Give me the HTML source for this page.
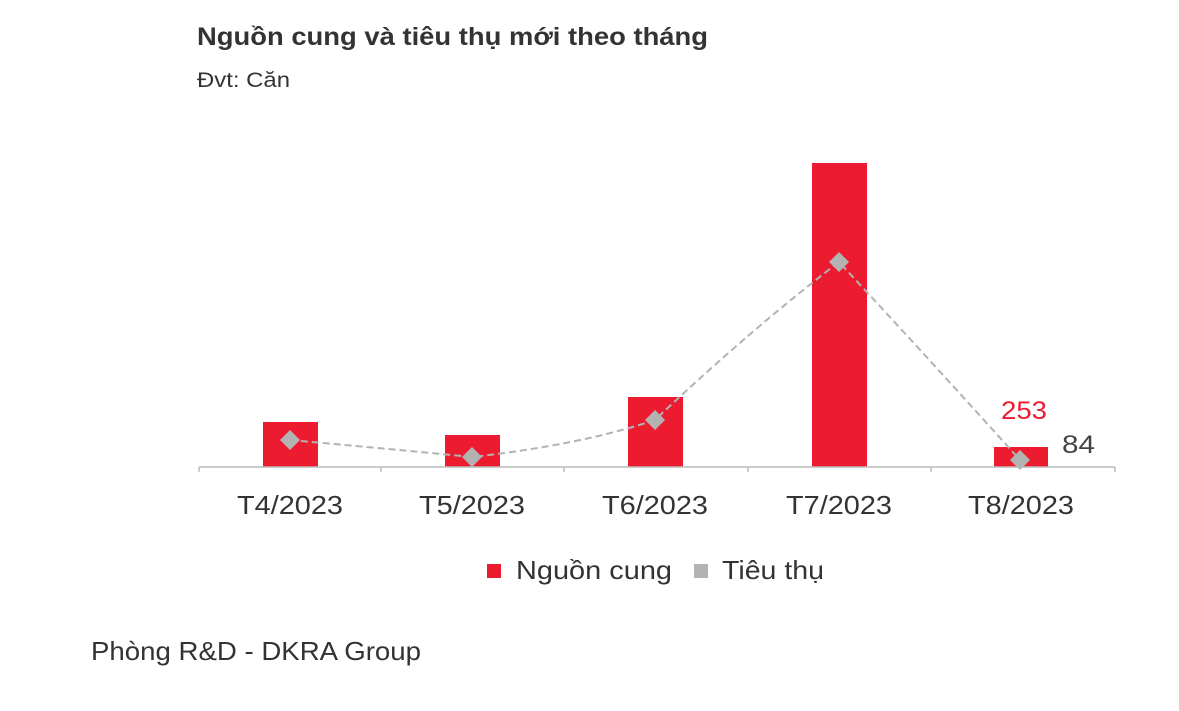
<!DOCTYPE html>
<html><head><meta charset="utf-8"><style>
body{margin:0;background:#fff;}
svg{display:block;font-family:"Liberation Sans",sans-serif;}
</style></head><body>
<svg width="1179" height="711" viewBox="0 0 1179 711">
<text x="197" y="45" font-size="25" font-weight="bold" fill="#333" textLength="511" lengthAdjust="spacingAndGlyphs">Nguồn cung và tiêu thụ mới theo tháng</text>
<text x="197" y="87" font-size="21" fill="#333" textLength="93" lengthAdjust="spacingAndGlyphs">Đvt: Căn</text>
<g fill="#ED1B2F">
<rect x="263" y="422" width="55" height="45"/>
<rect x="445" y="435" width="55" height="32"/>
<rect x="628" y="397" width="55" height="70"/>
<rect x="812" y="163" width="55" height="304"/>
<rect x="994" y="447" width="54" height="20"/>
</g>
<g stroke="#bbb" stroke-width="1.5" fill="none">
<line x1="199" y1="467" x2="1115" y2="467"/>
<line x1="199" y1="467" x2="199" y2="472"/>
<line x1="381" y1="467" x2="381" y2="472"/>
<line x1="564" y1="467" x2="564" y2="472"/>
<line x1="748" y1="467" x2="748" y2="472"/>
<line x1="931" y1="467" x2="931" y2="472"/>
<line x1="1115" y1="467" x2="1115" y2="472"/>
</g>
<path d="M290,440 Q380,448 472,457 Q580,445 655,420 Q750,330 839,262 Q930,360 1020,460" stroke="#b3b3b3" stroke-width="2" stroke-dasharray="7,4" fill="none"/>
<g fill="#b3b3b3">
<path d="M290,430 l10,10 l-10,10 l-10,-10z"/>
<path d="M472,447 l10,10 l-10,10 l-10,-10z"/>
<path d="M655,410 l10,10 l-10,10 l-10,-10z"/>
<path d="M839,252 l10,10 l-10,10 l-10,-10z"/>
<path d="M1020,450 l10,10 l-10,10 l-10,-10z"/>
</g>
<text x="1001" y="419" font-size="25" fill="#ED1B2F" textLength="46" lengthAdjust="spacingAndGlyphs">253</text>
<text x="1062" y="453" font-size="25" fill="#444" textLength="33" lengthAdjust="spacingAndGlyphs">84</text>
<g font-size="26" fill="#333">
<text x="237" y="514" textLength="106" lengthAdjust="spacingAndGlyphs">T4/2023</text>
<text x="419" y="514" textLength="106" lengthAdjust="spacingAndGlyphs">T5/2023</text>
<text x="602" y="514" textLength="106" lengthAdjust="spacingAndGlyphs">T6/2023</text>
<text x="786" y="514" textLength="106" lengthAdjust="spacingAndGlyphs">T7/2023</text>
<text x="968" y="514" textLength="106" lengthAdjust="spacingAndGlyphs">T8/2023</text>
</g>
<rect x="487" y="564" width="14" height="14" fill="#ED1B2F"/>
<text x="516" y="579" font-size="26" fill="#333" textLength="156" lengthAdjust="spacingAndGlyphs">Nguồn cung</text>
<rect x="694" y="564" width="14" height="14" fill="#b3b3b3"/>
<text x="722" y="579" font-size="26" fill="#333" textLength="102" lengthAdjust="spacingAndGlyphs">Tiêu thụ</text>
<text x="91" y="660" font-size="26" fill="#333" textLength="330" lengthAdjust="spacingAndGlyphs">Phòng R&amp;D - DKRA Group</text>
</svg>
</body></html>
